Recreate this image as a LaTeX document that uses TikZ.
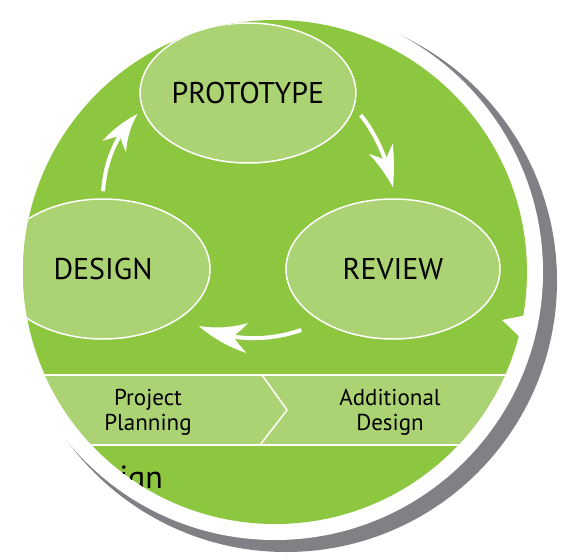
\documentclass[tikz,border=0pt]{standalone}
\usepackage{fontspec}
\setmainfont{PT Sans}
\usepackage{tikz}
\usetikzlibrary{shapes.geometric,arrows.meta,bending,positioning}
\definecolor{cyclegreen}{RGB}{141,198,63}
\definecolor{phasegreen}{RGB}{171,211,115}
\definecolor{shadowgray}{RGB}{128,129,133}

\begin{document}
\begin{tikzpicture}[
    x=1pt, y=-1pt,
    phase/.style={ellipse, draw=white, line width=1.5pt, fill=phasegreen, minimum width=214pt, minimum height=140pt, inner sep=0pt, font=\fontsize{30}{36}\selectfont},
    stage/.style={align=center, font=\fontsize{23}{25}\selectfont},
    cyclearrow/.style={white, line width=4pt, -{Stealth[length=42pt, width=26pt, inset=13pt, line width=0pt, bend]}}
]
    \useasboundingbox (0,0) rectangle (577,559);
    \fill[shadowgray] (286,281) circle[radius=271];
    \fill[white] (275,272) circle[radius=268];
    \fill[cyclegreen] (275,272) circle[radius=252];
    \begin{scope}
        \clip (275,272) circle[radius=252];
        \fill[phasegreen] (0,375) rectangle (577,445);
        \draw[white, line width=1.5pt] (0,375) -- (577,375) (0,445) -- (577,445);
        \draw[white, line width=1.5pt] (262,375) -- (287,410) -- (260,445);
        \node[phase] (proto) at (248,93) {PROTOTYPE};
        \node[phase] (design) at (103,269) {DESIGN};
        \node[phase] (review) at (393,269) {REVIEW};
        \node[font=\fontsize{32}{36}\selectfont, anchor=base east, inner sep=0pt] (tail) at (163,488) {ign};
    \end{scope}
    \node[stage] (plan) at (148,412) {Project\\Planning};
    \node[stage] (extra) at (390,412) {Additional\\Design};

    \draw[cyclearrow] ([yshift=7pt]design.north) .. controls +(2,-27) and +(-23,22) .. ([shift={(-2pt,-21pt)}]proto.west);
    \draw[cyclearrow] ([shift={(4pt,-22pt)}]proto.east) .. controls +(16,20) and +(-6,-28) .. ([yshift=11pt]review.north);
    \draw[cyclearrow, -{Stealth[length=52pt, width=30pt, inset=15pt, line width=0pt, bend]}] ([shift={(16pt,-61pt)}]review.west) .. controls +(-32,11) and +(34,16) .. ([shift={(-12pt,-57pt)}]design.east);
    \fill[white] (502,320) -- (532,314) -- (525,342) -- cycle;
\end{tikzpicture}
\end{document}
